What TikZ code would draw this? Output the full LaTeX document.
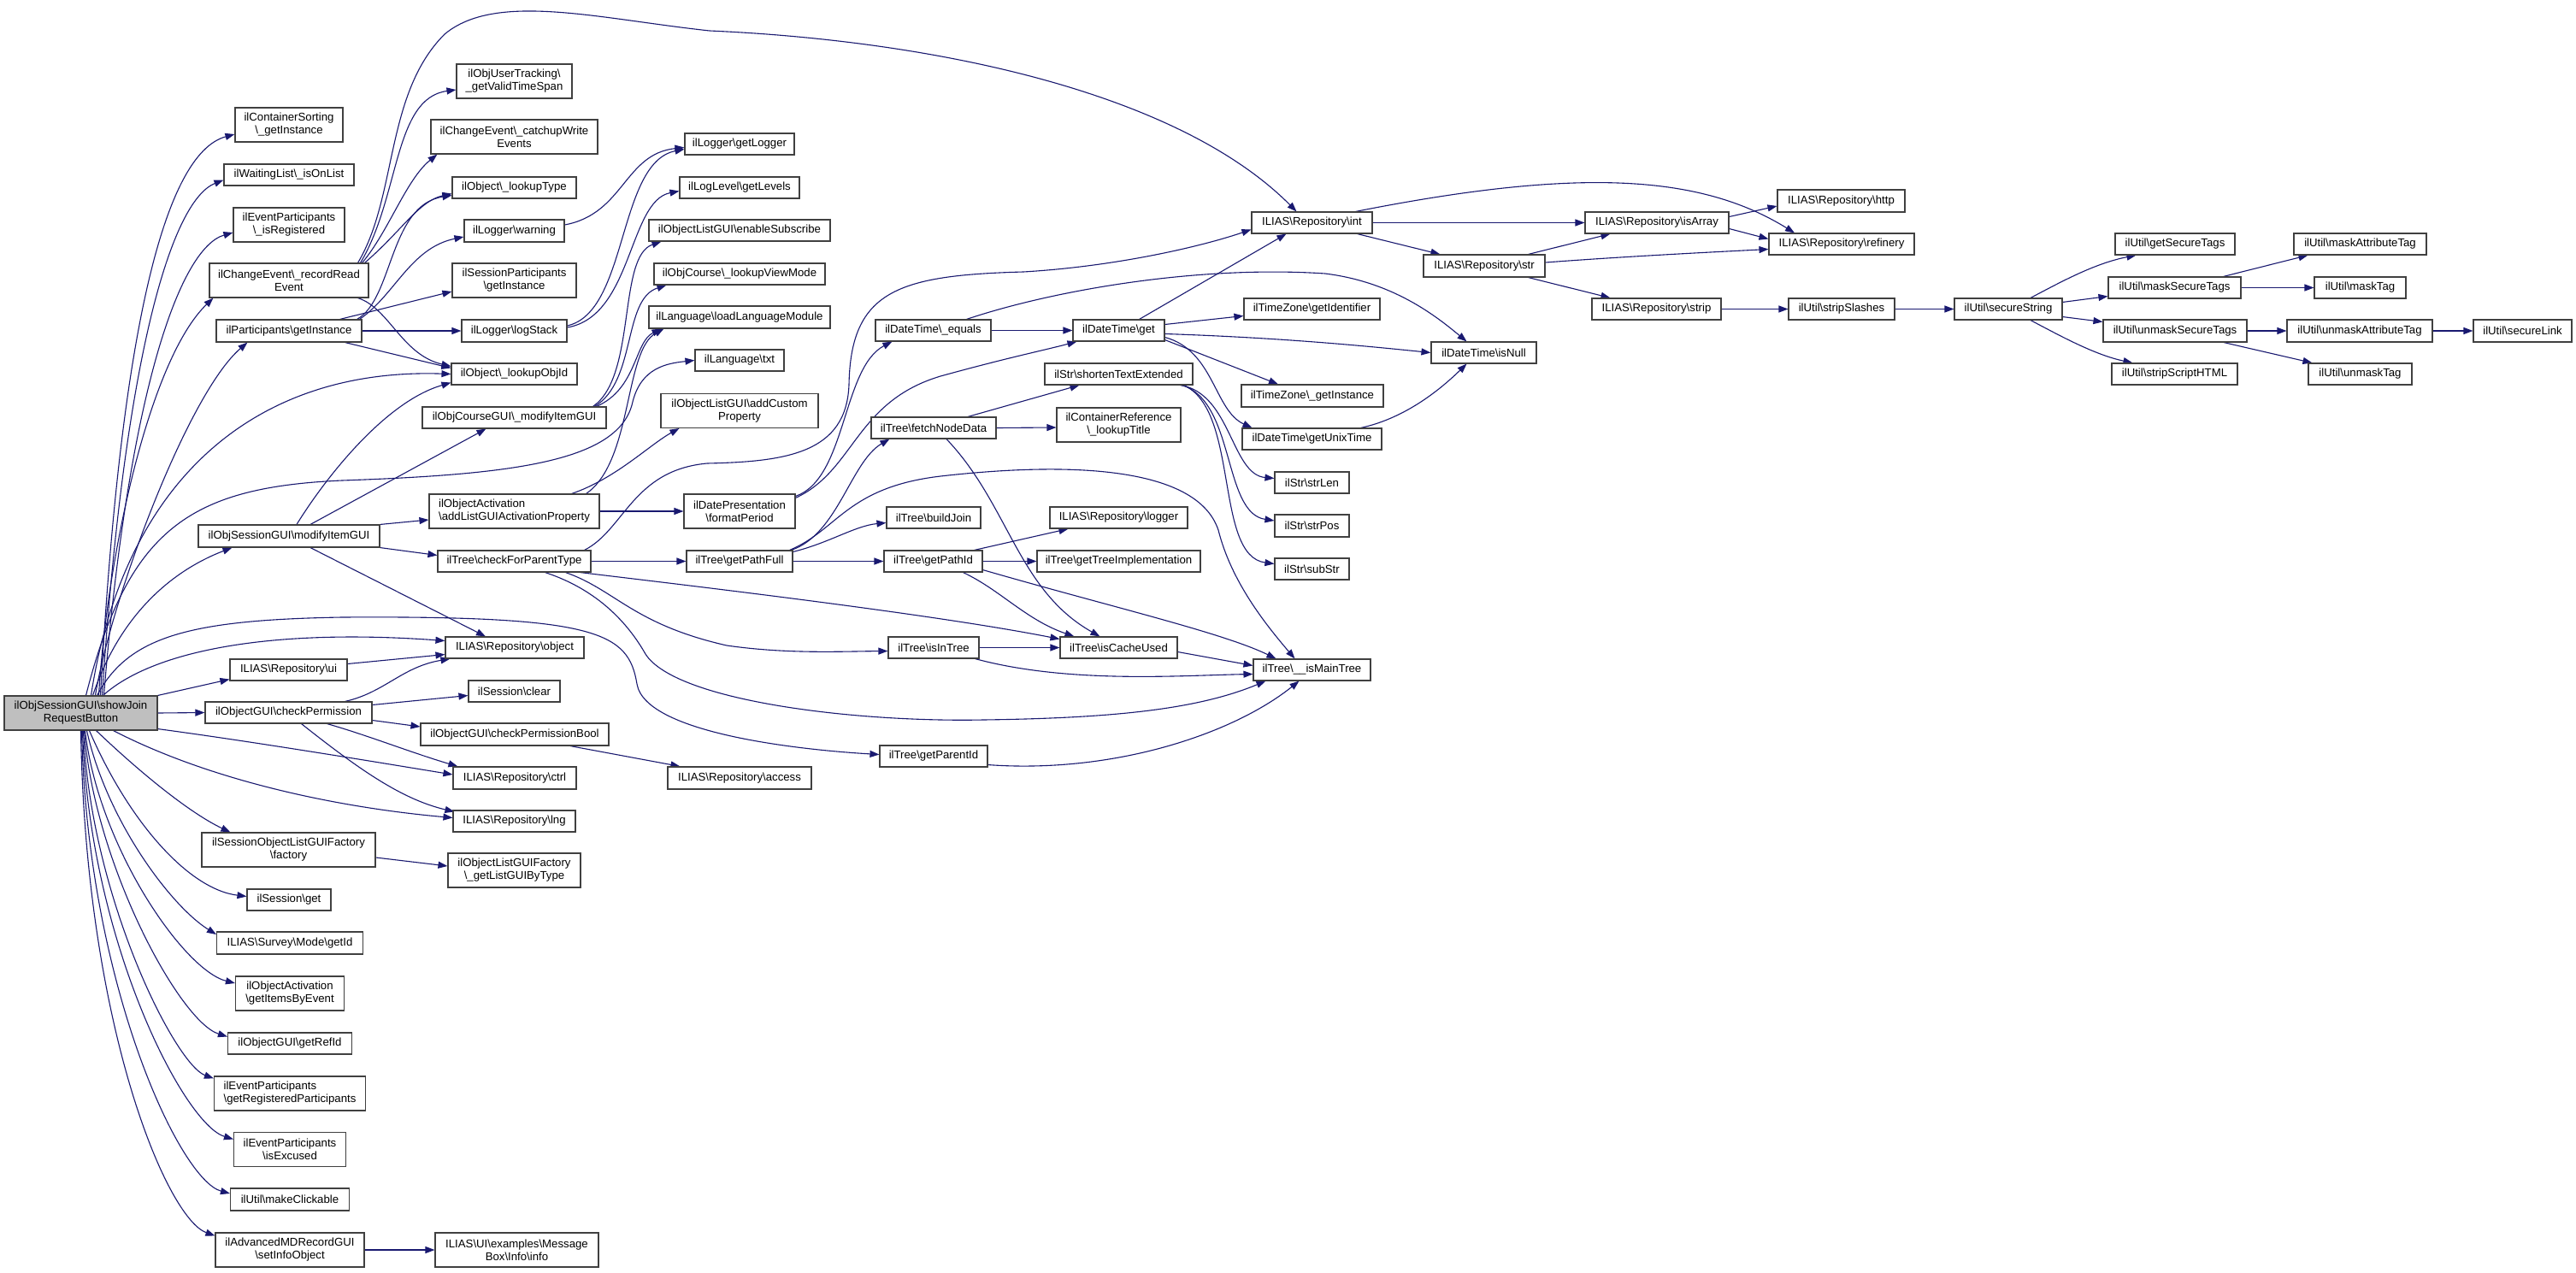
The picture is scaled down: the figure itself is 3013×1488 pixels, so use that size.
\documentclass[tikz,border=0pt]{standalone}
\usepackage{fontspec}
\setmainfont{Liberation Sans}
\usetikzlibrary{arrows.meta,calc,backgrounds}
\definecolor{edgec}{HTML}{191970}
\definecolor{boxc}{HTML}{404040}
\definecolor{rootc}{HTML}{BFBFBF}
\newcommand\nf{\fontsize{13.2}{15}\selectfont}
\newcommand\BSL{\textbackslash{}}
\newcommand\mynode[6]{\node[box,minimum width=#4pt,minimum height=#5pt] (#1) at (#2,#3) {#6};}
\tikzset{
  box/.style={draw=boxc,line width=1.1pt,fill=white,inner sep=0pt,align=center,font=\nf},
  e/.style={draw=edgec,line width=1.1pt,-{Triangle[length=11pt,width=8pt]}}
}
\begin{document}
\begin{tikzpicture}[x=1pt,y=-1pt]
\useasboundingbox (0,0) rectangle (3013,1488);
% ---- column 0 / root
\node[box,fill=rootc,minimum width=179pt,minimum height=40pt] (R) at (94.5,834) {ilObjSessionGUI\BSL showJoin\\RequestButton};
% ---- column 1
\mynode{cs}{338}{146}{126}{40}{ilContainerSorting\\\BSL\_getInstance}
\mynode{wl}{338}{204.5}{152}{25}{ilWaitingList\BSL\_isOnList}
\mynode{ir}{338}{263}{130}{40}{ilEventParticipants\\\BSL\_isRegistered}
\mynode{rre}{338}{328}{186}{40}{ilChangeEvent\BSL\_recordRead\\Event}
\mynode{pgi}{338}{387}{170}{26}{ilParticipants\BSL getInstance}
\mynode{smi}{338}{627}{212}{26}{ilObjSessionGUI\BSL modifyItemGUI}
\mynode{rui}{337.5}{783.5}{137}{25}{ILIAS\BSL Repository\BSL ui}
\mynode{cp}{337.5}{833.5}{195}{25}{ilObjectGUI\BSL checkPermission}
\mynode{solf}{337.5}{994}{203}{40}{ilSessionObjectListGUIFactory\\\BSL factory}
\mynode{sget}{338}{1052.5}{98}{25}{ilSession\BSL get}
\mynode{sgi}{339}{1103}{171}{26}{ILIAS\BSL Survey\BSL Mode\BSL getId}
\mynode{gibe}{339}{1162}{127}{40}{ilObjectActivation\\\BSL getItemsByEvent}
\mynode{gri}{339}{1220.5}{145}{25}{ilObjectGUI\BSL getRefId}
\node[box,align=left,minimum width=177pt,minimum height=40pt] (grp) at (339,1279) {ilEventParticipants\\\BSL getRegisteredParticipants};
\mynode{iex}{339}{1344.5}{131}{40}{ilEventParticipants\\\BSL isExcused}
\mynode{mc}{339}{1403}{139}{26}{ilUtil\BSL makeClickable}
\mynode{amd}{339}{1462}{174}{40}{ilAdvancedMDRecordGUI\\\BSL setInfoObject}
% ---- column 2
\mynode{mb}{604.5}{1462}{191}{40}{ILIAS\BSL UI\BSL examples\BSL Message\\Box\BSL Info\BSL info}
\mynode{uts}{601.5}{95}{135}{40}{ilObjUserTracking\BSL\\\_getValidTimeSpan}
\mynode{cwe}{601.5}{160}{195}{40}{ilChangeEvent\BSL\_catchupWrite\\Events}
\mynode{lt}{601.5}{219.5}{145}{25}{ilObject\BSL\_lookupType}
\mynode{lw}{601.5}{270}{117}{26}{ilLogger\BSL warning}
\mynode{spgi}{601.5}{328}{145}{40}{ilSessionParticipants\\\BSL getInstance}
\mynode{ls}{601.5}{387}{123}{26}{ilLogger\BSL logStack}
\mynode{loi}{601.5}{437.5}{147}{25}{ilObject\BSL\_lookupObjId}
\mynode{cmi}{601.5}{488.5}{215}{25}{ilObjCourseGUI\BSL\_modifyItemGUI}
\node[box,align=left,minimum width=199pt,minimum height=40pt] (alg) at (601.5,598) {ilObjectActivation\\\BSL addListGUIActivationProperty};
\mynode{cfp}{601.5}{656.5}{179}{25}{ilTree\BSL checkForParentType}
\mynode{robj}{602}{757.5}{162}{25}{ILIAS\BSL Repository\BSL object}
\mynode{sclr}{601.5}{808.5}{107}{25}{ilSession\BSL clear}
\mynode{cpb}{602}{859}{220}{26}{ilObjectGUI\BSL checkPermissionBool}
\mynode{rctrl}{602}{910}{144}{26}{ILIAS\BSL Repository\BSL ctrl}
\mynode{rlng}{601.5}{960.5}{143}{25}{ILIAS\BSL Repository\BSL lng}
\mynode{glg}{601.5}{1018}{155}{40}{ilObjectListGUIFactory\\\BSL\_getListGUIByType}
% ---- column 3
\mynode{gl}{865}{168.5}{128}{25}{ilLogger\BSL getLogger}
\mynode{gle}{865}{219.5}{140}{25}{ilLogLevel\BSL getLevels}
\mynode{es}{865}{269.5}{212}{25}{ilObjectListGUI\BSL enableSubscribe}
\mynode{lvm}{865}{320.5}{200}{25}{ilObjCourse\BSL\_lookupViewMode}
\mynode{llm}{865}{371}{212}{26}{ilLanguage\BSL loadLanguageModule}
\mynode{txt}{865}{421.5}{104}{25}{ilLanguage\BSL txt}
\mynode{acp}{865}{480.5}{184}{40}{ilObjectListGUI\BSL addCustom\\Property}
\mynode{fp}{865}{598}{130}{40}{ilDatePresentation\\\BSL formatPeriod}
\mynode{gpf}{865}{656.5}{124}{25}{ilTree\BSL getPathFull}
\mynode{racc}{865}{910}{168}{26}{ILIAS\BSL Repository\BSL access}
% ---- column 4
\mynode{deq}{1091.5}{386.5}{135}{25}{ilDateTime\BSL\_equals}
\mynode{fnd}{1092}{500.5}{146}{25}{ilTree\BSL fetchNodeData}
\mynode{bj}{1092}{605.5}{110}{25}{ilTree\BSL buildJoin}
\mynode{gpi}{1091.5}{656.5}{115}{25}{ilTree\BSL getPathId}
\mynode{iit}{1092}{757.5}{106}{25}{ilTree\BSL isInTree}
\mynode{gpar}{1092}{884.5}{126}{25}{ilTree\BSL getParentId}
% ---- column 5
\mynode{dget}{1308.5}{386.5}{107}{25}{ilDateTime\BSL get}
\mynode{ste}{1308.5}{437.5}{173}{25}{ilStr\BSL shortenTextExtended}
\mynode{clt}{1308.5}{497}{145}{40}{ilContainerReference\\\BSL\_lookupTitle}
\mynode{rlog}{1308.5}{605.5}{161}{25}{ILIAS\BSL Repository\BSL logger}
\mynode{gti}{1308.5}{656.5}{191}{25}{ilTree\BSL getTreeImplementation}
\mynode{icu}{1308.5}{757.5}{137}{25}{ilTree\BSL isCacheUsed}
% ---- column 6
\mynode{rint}{1534.5}{260.5}{141}{25}{ILIAS\BSL Repository\BSL int}
\mynode{tzgi}{1534.5}{361.5}{159}{25}{ilTimeZone\BSL getIdentifier}
\mynode{tzi}{1535}{463}{166}{26}{ilTimeZone\BSL\_getInstance}
\mynode{gut}{1534.5}{513.5}{163}{25}{ilDateTime\BSL getUnixTime}
\mynode{slen}{1534.5}{564.5}{87}{25}{ilStr\BSL strLen}
\mynode{spos}{1534.5}{615}{87}{26}{ilStr\BSL strPos}
\mynode{ssub}{1534.5}{665.5}{87}{25}{ilStr\BSL subStr}
\mynode{imt}{1534.5}{783.5}{137}{25}{ilTree\BSL\_\_isMainTree}
% ---- column 7
\mynode{rstr}{1736}{311}{142}{26}{ILIAS\BSL Repository\BSL str}
\mynode{dnull}{1735.5}{412.5}{123}{25}{ilDateTime\BSL isNull}
% ---- column 8
\mynode{risa}{1938}{260.5}{168}{25}{ILIAS\BSL Repository\BSL isArray}
\mynode{rstrip}{1937.5}{361.5}{151}{25}{ILIAS\BSL Repository\BSL strip}
% ---- column 9
\mynode{rhttp}{2153.5}{235}{149}{26}{ILIAS\BSL Repository\BSL http}
\mynode{rref}{2154}{285.5}{170}{25}{ILIAS\BSL Repository\BSL refinery}
\mynode{ssl}{2154}{361.5}{124}{25}{ilUtil\BSL stripSlashes}
% ---- column 10
\mynode{ss}{2349}{361.5}{126}{25}{ilUtil\BSL secureString}
% ---- column 11
\mynode{gst}{2544}{285.5}{140}{25}{ilUtil\BSL getSecureTags}
\mynode{mst}{2543.5}{336.5}{155}{25}{ilUtil\BSL maskSecureTags}
\mynode{ust}{2544}{387}{168}{26}{ilUtil\BSL unmaskSecureTags}
\mynode{ssh}{2543.5}{437.5}{147}{25}{ilUtil\BSL stripScriptHTML}
% ---- column 12
\mynode{mat}{2760.5}{285.5}{155}{25}{ilUtil\BSL maskAttributeTag}
\mynode{mtag}{2760.5}{336.5}{107}{25}{ilUtil\BSL maskTag}
\mynode{uat}{2760}{387}{170}{26}{ilUtil\BSL unmaskAttributeTag}
\mynode{utag}{2760.5}{437.5}{121}{25}{ilUtil\BSL unmaskTag}
% ---- column 13
\mynode{sl}{2950.5}{387}{115}{26}{ilUtil\BSL secureLink}

\begin{pgfonlayer}{background}
\fill[white] (0,0) rectangle (3013,1488);
% ---- root edges (upper)
\draw[e] ($(R.north)+(23,0)$) .. controls (140,400) and (190,180) .. ($(cs.west)+(0,11)$);
\draw[e] ($(R.north)+(25,0)$) .. controls (145,420) and (200,235) .. ($(wl.west)+(0,6)$);
\draw[e] ($(R.north)+(27,0)$) .. controls (150,460) and (210,290) .. ($(ir.west)+(0,9)$);
\draw[e] ($(R.north)+(21,0)$) .. controls (125,650) and (175,420) .. ($(rre.south west)+(5,0)$);
\draw[e] ($(R.north)+(17,0)$) .. controls (130,700) and (220,460) .. ($(pgi.south west)+(37,0)$);
\draw[e] ($(R.north)+(12,0)$) .. controls (145,560) and (300,430) .. (loi.west);
\draw[e] ($(R.north)+(6,0)$) .. controls (150,620) and (220,570) .. (400,562) .. controls (600,555) and (725,540) .. (740,470) .. controls (750,430) and (780,425) .. (txt.west);
\draw[e] ($(R.north)+(14,0)$) .. controls (140,720) and (200,668) .. ($(smi.south west)+(40,0)$);
\draw[e] ($(R.north)+(26,0)$) .. controls (180,760) and (320,735) .. ($(robj.west)+(0,-8)$);
\draw[e] ($(R.north)+(19,0)$) .. controls (150,745) and (220,725) .. (400,722) .. controls (700,720) and (735,740) .. (745,800) .. controls (755,860) and (950,878) .. ($(gpar.west)+(0,-2)$);
\draw[e] (R.north east) -- ($(rui.south west)+(0,-2)$);
\draw[e] (R.east) -- (cp.west);
\draw[e] ($(R.south east)+(0,-2)$) .. controls (300,868) and (450,893) .. ($(rctrl.west)+(0,-4)$);
% ---- root edges (lower)
\draw[e] ($(R.south)+(38,0)$) .. controls (250,915) and (400,945) .. ($(rlng.west)+(0,-4)$);
\draw[e] ($(R.south)+(18,0)$) .. controls (160,900) and (220,950) .. ($(solf.north west)+(34,0)$);
\draw[e] ($(R.south)+(10,0)$) .. controls (150,960) and (220,1040) .. ($(sget.west)+(0,-4)$);
\draw[e] ($(R.south)+(7,0)$) .. controls (125,960) and (200,1060) .. ($(sgi.west)+(0,-10)$);
\draw[e] ($(R.south)+(5,0)$) .. controls (115,990) and (215,1135) .. ($(gibe.west)+(0,-12)$);
\draw[e] ($(R.south)+(4,0)$) .. controls (110,1010) and (210,1195) .. ($(gri.west)+(0,-8)$);
\draw[e] ($(R.south)+(3,0)$) .. controls (106,1050) and (205,1245) .. ($(grp.north west)+(0,3)$);
\draw[e] ($(R.south)+(2,0)$) .. controls (104,1100) and (215,1315) .. ($(iex.west)+(0,-12)$);
\draw[e] ($(R.south)+(1,0)$) .. controls (102,1150) and (210,1380) .. ($(mc.west)+(0,-7)$);
\draw[e] (R.south) .. controls (100,1200) and (195,1425) .. ($(amd.north west)+(0,4)$);
% ---- recordReadEvent
\draw[e] ($(rre.north east)+(-13,0)$) .. controls (465,230) and (450,110) .. (520,40) .. controls (580,-10) and (700,22) .. (830,36) .. controls (1100,48) and (1380,110) .. ($(rint.north)+(-18,0)$);
\draw[e] ($(rre.north east)+(-10,0)$) .. controls (468,230) and (460,115) .. ($(uts.west)+(0,10)$);
\draw[e] ($(rre.north east)+(-8,0)$) .. controls (455,270) and (475,210) .. ($(cwe.south west)+(8,0)$);
\draw[e] ($(rre.north east)+(-5,0)$) .. controls (470,270) and (490,235) .. ($(lt.west)+(0,7)$);
\draw[e] ($(rre.south east)+(-13,0)$) .. controls (455,360) and (470,415) .. ($(loi.north west)+(0,4)$);
% ---- ilParticipants getInstance
\draw[e] ($(pgi.north east)+(-26,0)$) -- ($(spgi.west)+(0,13)$);
\draw[e] ($(pgi.north east)+(-6,0)$) .. controls (460,350) and (455,240) .. ($(lt.west)+(0,9)$);
\draw[e] ($(pgi.north east)+(-3,0)$) .. controls (462,345) and (480,290) .. ($(lw.west)+(0,7)$);
\draw[e] (pgi.east) -- (ls.west);
\draw[e] ($(pgi.south east)+(-20,0)$) -- ($(loi.north west)+(0,6)$);
% ---- logger
\draw[e] ($(lw.east)+(0,-7)$) .. controls (730,250) and (730,180) .. ($(gl.west)+(0,4)$);
\draw[e] ($(ls.east)+(0,-6)$) .. controls (735,365) and (722,190) .. ($(gl.west)+(0,6)$);
\draw[e] ($(ls.east)+(0,-4)$) .. controls (740,370) and (735,235) .. ($(gle.west)+(0,4)$);
% ---- course gui
\draw[e] ($(cmi.north east)+(-16,0)$) .. controls (745,440) and (722,300) .. ($(es.south west)+(15,0)$);
\draw[e] ($(cmi.north east)+(-14,0)$) .. controls (745,445) and (728,350) .. ($(lvm.south west)+(15,0)$);
\draw[e] ($(cmi.north east)+(-12,0)$) .. controls (745,455) and (742,400) .. ($(llm.south west)+(15,0)$);
% ---- activation
\draw[e] ($(alg.north east)+(-16,0)$) .. controls (740,540) and (730,410) .. ($(llm.south west)+(18,0)$);
\draw[e] ($(alg.north east)+(-33,0)$) .. controls (720,560) and (760,520) .. ($(acp.south west)+(22,0)$);
\draw[e] (alg.east) -- (fp.west);
% ---- session modifyItemGUI
\draw[e] ($(smi.north)+(25,0)$) -- ($(cmi.south)+(-33,0)$);
\draw[e] ($(smi.north)+(9,0)$) .. controls (380,560) and (450,470) .. ($(loi.south west)+(0,-3)$);
\draw[e] (smi.north east) -- ($(alg.west)+(0,10)$);
\draw[e] (smi.south east) -- ($(cfp.west)+(0,-7)$);
\draw[e] ($(smi.south)+(25,0)$) -- ($(robj.north)+(-34,0)$);
% ---- ui / checkPermission
\draw[e] ($(rui.east)+(0,-7)$) -- ($(robj.west)+(0,8)$);
\draw[e] ($(cp.north east)+(-32,0)$) .. controls (450,810) and (470,780) .. ($(robj.south west)+(6,0)$);
\draw[e] ($(cp.east)+(0,-9)$) -- ($(sclr.west)+(0,5)$);
\draw[e] ($(cp.east)+(0,9)$) -- ($(cpb.west)+(0,-9)$);
\draw[e] ($(cp.south)+(45,0)$) .. controls (430,860) and (480,880) .. ($(rctrl.north west)+(6,0)$);
\draw[e] ($(cp.south)+(15,0)$) .. controls (420,900) and (470,935) .. ($(rlng.north west)+(2,2)$);
\draw[e] ($(cpb.south)+(65,0)$) -- ($(racc.north west)+(15,0)$);
\draw[e] ($(solf.east)+(0,9)$) -- ($(glg.west)+(0,-5)$);
\draw[e] (amd.east) -- (mb.west);
% ---- checkForParentType
\draw[e] (cfp.east) -- (gpf.west);
\draw[e] ($(cfp.north east)+(-8,0)$) .. controls (730,620) and (740,550) .. (827,542) .. controls (920,540) and (990,530) .. (993,450) .. controls (995,340) and (1050,322) .. (1197,318) .. controls (1300,312) and (1400,290) .. ($(rint.west)+(0,8)$);
\draw[e] ($(cfp.south east)+(-13,0)$) .. controls (850,690) and (1100,720) .. ($(icu.west)+(0,-10)$);
\draw[e] ($(cfp.south)+(60,0)$) .. controls (720,690) and (740,730) .. (850,755) .. controls (920,765) and (980,762) .. ($(iit.west)+(0,4)$);
\draw[e] ($(cfp.south)+(36,0)$) .. controls (700,690) and (735,730) .. (755,765) .. controls (790,820) and (1000,845) .. (1150,842) .. controls (1300,840) and (1400,830) .. ($(imt.south west)+(15,0)$);
% ---- getPathFull
\draw[e] (gpf.east) -- (gpi.west);
\draw[e] ($(gpf.north east)+(-2,0)$) .. controls (980,625) and (995,540) .. ($(fnd.south west)+(22,0)$);
\draw[e] ($(gpf.north east)+(0,2)$) .. controls (970,635) and (1000,615) .. ($(bj.west)+(0,6)$);
\draw[e] ($(gpf.north east)+(-4,0)$) .. controls (980,620) and (990,570) .. (1100,557) .. controls (1250,540) and (1400,545) .. (1425,620) .. controls (1440,680) and (1480,730) .. ($(imt.north)+(-20,0)$);
% ---- formatPeriod
\draw[e] ($(fp.north east)+(0,3)$) .. controls (990,560) and (985,430) .. ($(deq.south west)+(20,0)$);
\draw[e] ($(fp.north east)+(0,5)$) .. controls (1000,550) and (1000,470) .. (1100,440) .. controls (1180,418) and (1220,410) .. ($(dget.south west)+(5,0)$);
% ---- DateTime
\draw[e] (deq.east) -- (dget.west);
\draw[e] ($(deq.north east)+(-29,0)$) .. controls (1230,340) and (1400,310) .. (1550,320) .. controls (1630,330) and (1680,370) .. ($(dnull.north)+(-20,0)$);
\draw[e] ($(dget.north east)+(-30,0)$) -- ($(rint.south)+(-30,0)$);
\draw[e] ($(dget.east)+(0,-7)$) -- ($(tzgi.west)+(0,8)$);
\draw[e] ($(dget.east)+(0,4)$) .. controls (1500,395) and (1600,405) .. (dnull.west);
\draw[e] ($(dget.south east)+(0,-2)$) -- ($(tzi.north)+(-40,0)$);
\draw[e] ($(dget.south east)+(0,-5)$) .. controls (1420,410) and (1420,480) .. ($(gut.north west)+(12,0)$);
\draw[e] ($(gut.north east)+(-25,0)$) .. controls (1640,490) and (1680,460) .. ($(dnull.south)+(-20,0)$);
% ---- fetchNodeData
\draw[e] ($(fnd.north)+(40,0)$) -- ($(ste.south)+(-46,0)$);
\draw[e] (fnd.east) -- ($(clt.west)+(0,3)$);
\draw[e] ($(fnd.south)+(15,0)$) .. controls (1180,590) and (1190,690) .. ($(icu.north)+(-22,0)$);
% ---- shortenTextExtended
\draw[e] ($(ste.south east)+(-15,0)$) .. controls (1440,460) and (1440,555) .. ($(slen.west)+(0,-5)$);
\draw[e] ($(ste.south east)+(-13,0)$) .. controls (1445,470) and (1430,600) .. ($(spos.west)+(0,-6)$);
\draw[e] ($(ste.south east)+(-11,0)$) .. controls (1450,480) and (1420,650) .. ($(ssub.west)+(0,-6)$);
% ---- getPathId / isInTree / isCacheUsed / getParentId
\draw[e] ($(gpi.north east)+(-10,0)$) -- ($(rlog.south west)+(22,0)$);
\draw[e] (gpi.east) -- (gti.west);
\draw[e] ($(gpi.south)+(35,0)$) .. controls (1170,690) and (1200,725) .. ($(icu.north west)+(17,0)$);
\draw[e] ($(gpi.south east)+(0,-3)$) .. controls (1300,710) and (1430,740) .. ($(imt.north)+(-42,0)$);
\draw[e] (iit.east) -- (icu.west);
\draw[e] ($(iit.south east)+(-5,0)$) .. controls (1250,800) and (1380,790) .. ($(imt.west)+(0,5)$);
\draw[e] ($(icu.east)+(0,5)$) -- ($(imt.west)+(0,-5)$);
\draw[e] ($(gpar.south east)+(0,-3)$) .. controls (1300,905) and (1440,860) .. ($(imt.south)+(-15,0)$);
% ---- Repository int / str
\draw[e] (rint.east) -- (risa.west);
\draw[e] ($(rint.south east)+(-18,0)$) -- ($(rstr.north west)+(20,0)$);
\draw[e] ($(rint.north east)+(-20,0)$) .. controls (1850,195) and (1990,205) .. ($(rref.north)+(-55,0)$);
\draw[e] ($(risa.east)+(0,-7)$) -- ($(rhttp.west)+(0,6)$);
\draw[e] ($(risa.east)+(0,7)$) -- ($(rref.west)+(0,-6)$);
\draw[e] ($(rstr.north east)+(-20,0)$) -- ($(risa.south west)+(30,0)$);
\draw[e] ($(rstr.east)+(0,-4)$) .. controls (1900,300) and (2000,295) .. ($(rref.west)+(0,6)$);
\draw[e] ($(rstr.south east)+(-20,0)$) -- ($(rstrip.north west)+(22,0)$);
\draw[e] (rstrip.east) -- (ssl.west);
\draw[e] (ssl.east) -- (ss.west);
% ---- ilUtil
\draw[e] ($(ss.north)+(26,0)$) .. controls (2410,330) and (2450,308) .. ($(gst.south west)+(25,0)$);
\draw[e] ($(ss.north east)+(0,5)$) -- ($(mst.south west)+(0,-3)$);
\draw[e] ($(ss.south east)+(0,-4)$) -- ($(ust.north west)+(0,3)$);
\draw[e] ($(ss.south)+(26,0)$) .. controls (2410,393) and (2450,415) .. ($(ssh.north west)+(25,0)$);
\draw[e] ($(mst.north)+(57,0)$) -- ($(mat.south west)+(17,0)$);
\draw[e] (mst.east) -- (mtag.west);
\draw[e] (ust.east) -- (uat.west);
\draw[e] ($(ust.south)+(57,0)$) -- ($(utag.north west)+(5,0)$);
\draw[e] (uat.east) -- (sl.west);
\end{pgfonlayer}
\end{tikzpicture}
\end{document}
